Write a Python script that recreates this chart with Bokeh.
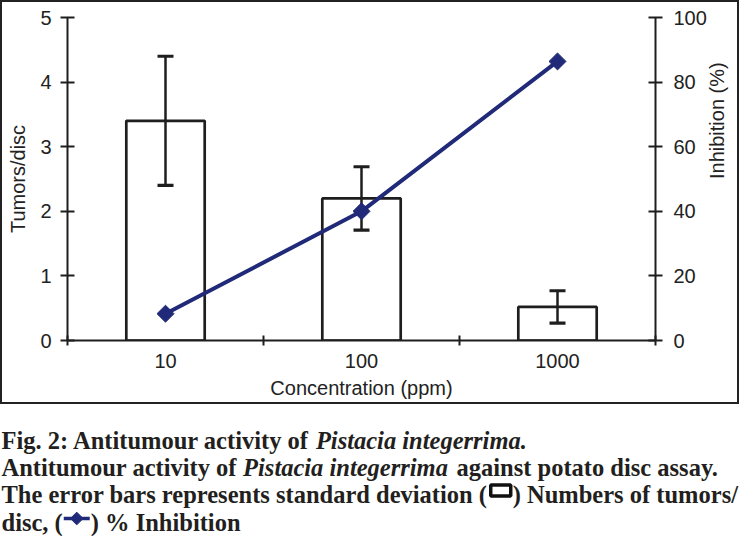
import math
from bokeh.plotting import figure
from bokeh.models import Range1d, LinearAxis, FixedTicker, ColumnDataSource
from bokeh.layouts import column
from bokeh.embed import file_html
from bokeh.resources import INLINE
from bokeh.core.properties import value

# ---------------- data ----------------
categories = ["10", "100", "1000"]
tumors_per_disc = [3.4, 2.2, 0.52]
tumors_sd = [1.0, 0.49, 0.25]
inhibition_pct = [8.3, 40.0, 86.4]
left_ticks = [0, 1, 2, 3, 4, 5]
right_ticks = [0, 20, 40, 60, 80, 100]

x_label = "Concentration (ppm)"
y_label = "Tumors/disc"
y2_label = "Inhibition (%)"

INK = "#1e1e1e"
TXT = "#222222"
NAVY = "#202a78"
SANS = "Liberation Sans"

xs = [i + 0.5 for i in range(len(categories))]
src = ColumnDataSource(dict(
    x=xs,
    top=tumors_per_disc,
    hi=[m + s for m, s in zip(tumors_per_disc, tumors_sd)],
    lo=[m - s for m, s in zip(tumors_per_disc, tumors_sd)],
    inh=inhibition_pct,
))

# canvas 739x404, 2px CSS border outside -> outer box 743x408
p = figure(width=739, height=404, x_range=Range1d(0, len(categories)),
           y_range=Range1d(left_ticks[0], left_ticks[-1]),
           output_backend="svg", toolbar_location=None,
           min_border_left=65, min_border_right=85, min_border_top=15,
           min_border_bottom=66, x_axis_label=x_label, y_axis_label=y_label)
p.outline_line_color = None
p.grid.visible = False
p.extra_y_ranges = {"inh": Range1d(right_ticks[0], right_ticks[-1])}
right = LinearAxis(y_range_name="inh", axis_label=y2_label,
                   ticker=FixedTicker(ticks=right_ticks))
p.add_layout(right, "right")
p.styles = {"border": "2px solid #222"}
p.frame_align = False

xa = p.xaxis[0]
ya = p.yaxis[0]
for ax in (xa, ya, right):
    ax.axis_line_width = 2
    ax.axis_line_color = INK
    ax.major_tick_line_width = 2
    ax.major_tick_line_color = INK
    ax.major_label_text_font = SANS
    ax.major_label_text_font_size = "20px"
    ax.major_label_text_color = TXT
    ax.axis_label_text_font = SANS
    ax.axis_label_text_font_size = "20px"
    ax.axis_label_text_font_style = "normal"
    ax.axis_label_text_color = TXT

ya.ticker = FixedTicker(ticks=left_ticks)
for ax in (ya, right):
    ax.major_tick_in = 7
    ax.major_tick_out = 7
    ax.minor_tick_line_color = None
ya.major_label_standoff = 9
ya.axis_label_standoff = 8
right.major_label_standoff = 11
right.axis_label_standoff = 7
right.axis_label_orientation = math.pi / 2

xa.ticker = FixedTicker(ticks=xs, minor_ticks=list(range(len(categories) + 1)))
xa.major_label_overrides = {x: c for x, c in zip(xs, categories)}
xa.major_tick_in = 0
xa.major_tick_out = 0
xa.minor_tick_in = 5
xa.minor_tick_out = 5
xa.minor_tick_line_width = 2
xa.minor_tick_line_color = INK
xa.major_label_standoff = 8
xa.axis_label_standoff = 6

p.vbar(x="x", top="top", bottom=0, width=0.4, source=src,
       fill_color=None, line_color=INK, line_width=2.7)
p.segment(x0="x", y0="lo", x1="x", y1="hi", source=src,
          line_color=INK, line_width=2.5)
p.scatter(x="x", y="hi", source=src, marker="dash", size=16,
          line_color=INK, line_width=3.2)
p.scatter(x="x", y="lo", source=src, marker="dash", size=16,
          line_color=INK, line_width=3.2)
p.line(x="x", y="inh", source=src, y_range_name="inh",
       line_color=NAVY, line_width=4)
p.scatter(x="x", y="inh", source=src, y_range_name="inh", marker="square",
          angle=math.pi / 4, size=12, fill_color=NAVY, line_color=NAVY)

# ---------------- caption ----------------
CW, CH = 743, 132
c = figure(width=CW, height=CH, x_range=Range1d(0, CW), y_range=Range1d(CH, 0),
           output_backend="svg", toolbar_location=None,
           x_axis_type=None, y_axis_type=None, min_border=0)
c.outline_line_color = None
c.grid.visible = False
c.frame_align = False

FS = 24.5
CAP = "#231f20"
BOLD = {' ': 250, '(': 333, ')': 333, ',': 250, '.': 250, '/': 278, '2': 500,
        ':': 333, '%': 1000, 'A': 722, 'F': 611, 'I': 389, 'N': 722, 'P': 611,
        'T': 667, 'a': 500, 'b': 556, 'c': 444, 'd': 556, 'e': 444, 'f': 333,
        'g': 500, 'h': 556, 'i': 278, 'l': 278, 'm': 833, 'n': 556, 'o': 500,
        'p': 556, 'r': 444, 's': 389, 't': 333, 'u': 556, 'v': 500, 'y': 500}
BOLDIT = {' ': 250, '.': 250, 'P': 667, 'a': 500, 'c': 444, 'e': 444, 'g': 500,
          'i': 278, 'm': 778, 'n': 556, 'r': 389, 's': 389, 't': 278}


def width(s, table, k=1.0):
    return k * sum(table.get(ch, 500) for ch in s) / 1000.0 * FS


caption_lines = [
    [("b", "Fig. 2: Antitumour activity of "), ("i", "Pistacia integerrima.")],
    [("b", "Antitumour activity of "), ("i", "Pistacia integerrima"),
     ("b", " against potato disc assay.")],
    [("b", "The error bars represents standard deviation ("), ("box", 24),
     ("b", ") Numbers of tumors/")],
    [("b", "disc, ("), ("sym", 28), ("b", ") % Inhibition")],
]
baselines = [36, 63, 90, 118]

bx, by, bt = [], [], []
ix, iy, it = [], [], []
for segs, yb in zip(caption_lines, baselines):
    x = 1.0
    for kind, content in segs:
        if kind == "b":
            bx.append(x); by.append(yb); bt.append(content)
            x += width(content, BOLD)
        elif kind == "i":
            ix.append(x); iy.append(yb); it.append(content)
            x += width(content, BOLDIT, 1.035)
        elif kind == "box":
            c.rect(x=[x + content / 2], y=[yb - 4], width=content - 4, height=11,
                   fill_color=None, line_color="#111111", line_width=3.5)
            x += content
        elif kind == "sym":
            c.line(x=[x + 1, x + content - 1], y=[yb - 4, yb - 4],
                   line_color=NAVY, line_width=3.5)
            c.scatter(x=[x + content / 2], y=[yb - 4], marker="square",
                      angle=math.pi / 4, size=9, fill_color=NAVY, line_color=NAVY)
            x += content

c.text(x=bx, y=by, text=bt, text_font=value("Liberation Serif"),
       text_font_size=f"{FS}px", text_font_style="bold",
       text_baseline="alphabetic", text_color=CAP)
c.text(x=ix, y=iy, text=it, text_font=value("Liberation Serif"),
       text_font_size=f"{FS}px", text_font_style="bold italic",
       text_baseline="alphabetic", text_color=CAP)

layout = column(p, c, spacing=0)
open("out.html", "w").write(file_html(layout, INLINE))
